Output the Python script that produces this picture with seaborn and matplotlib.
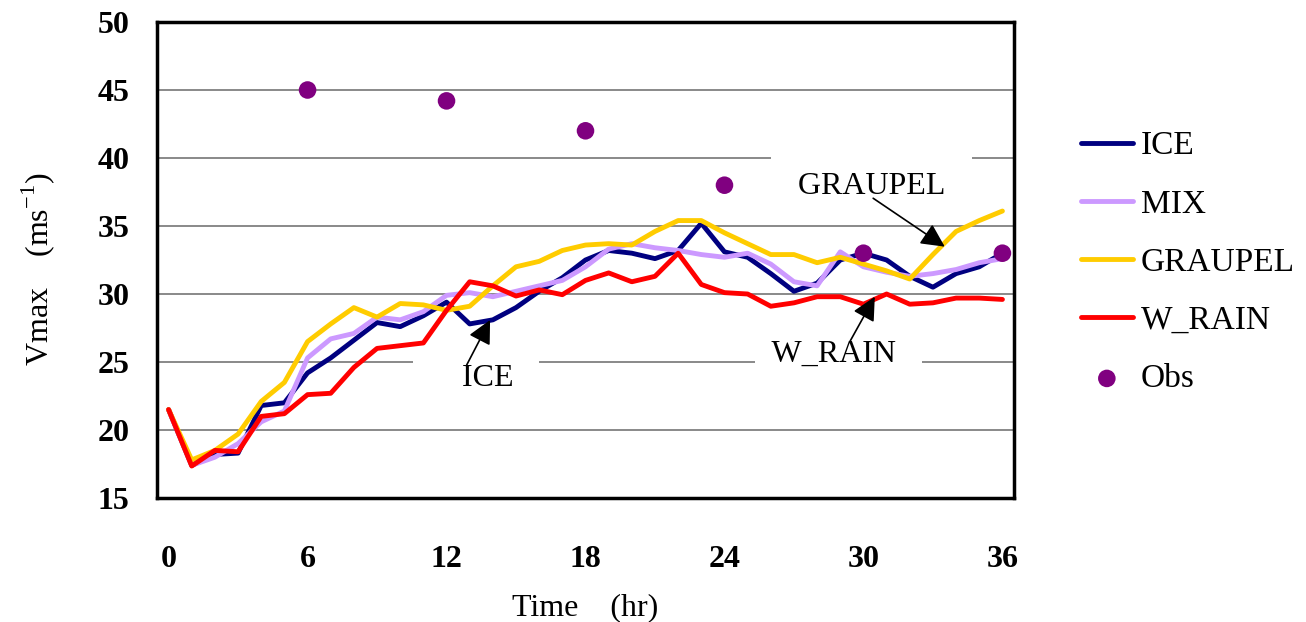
import matplotlib
matplotlib.use('Agg')
import matplotlib.pyplot as plt
import seaborn as sns
import pandas as pd
import numpy as np

# forecast hour
hours = list(range(37))

ice = [21.5, 17.4, 18.2, 18.3, 21.8, 22.0, 24.2, 25.3, 26.6, 27.9, 27.6, 28.4, 29.4, 27.8, 28.1, 29.0, 30.2,
       31.2, 32.5, 33.2, 33.0, 32.6, 33.2, 35.2, 33.1, 32.7, 31.5, 30.2, 30.8, 32.5, 33.0, 32.5, 31.3, 30.5,
       31.5, 32.0, 33.0]
mix = [21.5, 17.4, 18.0, 19.0, 20.6, 21.4, 25.3, 26.7, 27.1, 28.3, 28.1, 28.7, 29.9, 30.1, 29.8, 30.2, 30.6,
       31.0, 32.0, 33.3, 33.7, 33.4, 33.2, 32.9, 32.7, 33.0, 32.2, 30.9, 30.6, 33.1, 32.0, 31.6, 31.3, 31.5,
       31.8, 32.3, 32.6]
graupel = [21.5, 17.8, 18.5, 19.7, 22.1, 23.5, 26.5, 27.8, 29.0, 28.3, 29.3, 29.2, 28.8, 29.1, 30.6, 32.0, 32.4,
           33.2, 33.6, 33.7, 33.6, 34.6, 35.4, 35.4, 34.5, 33.7, 32.9, 32.9, 32.3, 32.7, 32.2, 31.7, 31.1, 32.9,
           34.6, 35.4, 36.1]
w_rain = [21.5, 17.35, 18.5, 18.4, 21.0, 21.2, 22.6, 22.7, 24.6, 26.0, 26.2, 26.4, 28.8, 30.9, 30.6, 29.85, 30.3,
          29.95, 31.0, 31.55, 30.9, 31.3, 33.0, 30.7, 30.1, 30.0, 29.1, 29.35, 29.8, 29.8, 29.25, 30.0, 29.25,
          29.35, 29.7, 29.7, 29.6]

obs_hours = [6, 12, 18, 24, 30, 36]
obs = [45.0, 44.2, 42.0, 38.0, 33.0, 33.0]

series_names = ['ICE', 'MIX', 'GRAUPEL', 'W_RAIN']
series_colors = ['#000080', '#CC99FF', '#FFCC00', '#FF0000']
x_tick_labels = ['0', '6', '12', '18', '24', '30', '36']
y_ticks = [15, 20, 25, 30, 35, 40, 45, 50]

df = pd.DataFrame({'Time': hours, 'ICE': ice, 'MIX': mix, 'GRAUPEL': graupel, 'W_RAIN': w_rain})
long_df = df.melt(id_vars='Time', var_name='scheme', value_name='Vmax')
obs_df = pd.DataFrame({'Time': obs_hours, 'Vmax': obs})

sns.set_style('white')
plt.rcParams['font.family'] = ['Liberation Serif', 'Noto Sans CJK JP', 'DejaVu Serif']
plt.rcParams['mathtext.fontset'] = 'custom'
plt.rcParams['mathtext.rm'] = 'Liberation Serif'
plt.rcParams['text.color'] = 'black'
plt.rcParams['axes.labelcolor'] = 'black'
plt.rcParams['xtick.color'] = 'black'
plt.rcParams['ytick.color'] = 'black'

fig = plt.figure(figsize=(13.06, 6.22), dpi=100)
ax = fig.add_axes([157 / 1306, 1 - 498 / 622, (1014 - 157) / 1306, (498 - 22) / 622])

sns.lineplot(data=long_df, x='Time', y='Vmax', hue='scheme', hue_order=series_names,
             palette=series_colors, linewidth=3.5, ax=ax, zorder=3)
sns.scatterplot(data=obs_df, x='Time', y='Vmax', color='#800080', s=160, edgecolor='none',
                label='Obs', ax=ax, zorder=4)

ax.set_xlim(-0.5, 36.5)
ax.set_ylim(15, 50)
ax.set_yticks(y_ticks)
ax.set_xticks([int(v) for v in x_tick_labels])
ax.set_xticklabels(x_tick_labels)
ax.set_xticks(np.arange(0.5, 36, 1), minor=True)
ax.tick_params(axis='x', which='major', length=0, pad=34, labelsize=23)
ax.tick_params(axis='x', which='minor', direction='in', length=7, width=1, color='black')
ax.tick_params(axis='y', which='major', direction='in', length=4, width=1, color='black', pad=20,
               labelsize=23)
for lab in ax.get_xticklabels() + ax.get_yticklabels():
    lab.set_fontweight('bold')

ax.set_axisbelow(True)
ax.yaxis.grid(True, color='#808080', linewidth=1.3)
ax.xaxis.grid(False)
for sp in ax.spines.values():
    sp.set_color('black')
    sp.set_linewidth(2.5)

ax.set_xlabel('Time\u3000(hr)', fontsize=23, labelpad=14)
ax.set_ylabel('Vmax$\\quad$(ms$^{-1}$)', fontsize=23)
ax.yaxis.set_label_coords(-0.117, 0.48)

# text boxes with arrows
boxes = [((13.27, 23.8), '     ICE  ', 0.3, (12.87, 24.78), (13.88, 28.09)),
         ((30.34, 37.9), ' GRAUPEL ', 0.6, (30.42, 37.04), (33.51, 33.48)),
         ((28.92, 25.6), ' W_RAIN  ', 0.3, (29.41, 26.49), (30.49, 29.8))]
for pos, txt, pad, tail, tip in boxes:
    ax.text(pos[0], pos[1], txt, ha='center', va='center', fontsize=23, zorder=1.5,
            bbox=dict(boxstyle='square,pad=%s' % pad, facecolor='white', edgecolor='none'))
    ax.annotate('', xy=tip, xytext=tail, zorder=5,
                arrowprops=dict(arrowstyle='-|>', mutation_scale=36, color='black', lw=1.2,
                                shrinkA=0, shrinkB=0))

handles, labels = ax.get_legend_handles_labels()
ax.legend(handles, labels, loc='upper left', bbox_to_anchor=(1081 / 1306, 1 - 131 / 622),
          bbox_transform=fig.transFigure, frameon=False, fontsize=24, handlelength=1.55,
          handletextpad=0.25, labelspacing=0.83, borderpad=0, borderaxespad=0)

fig.savefig('out.png', dpi=100)
